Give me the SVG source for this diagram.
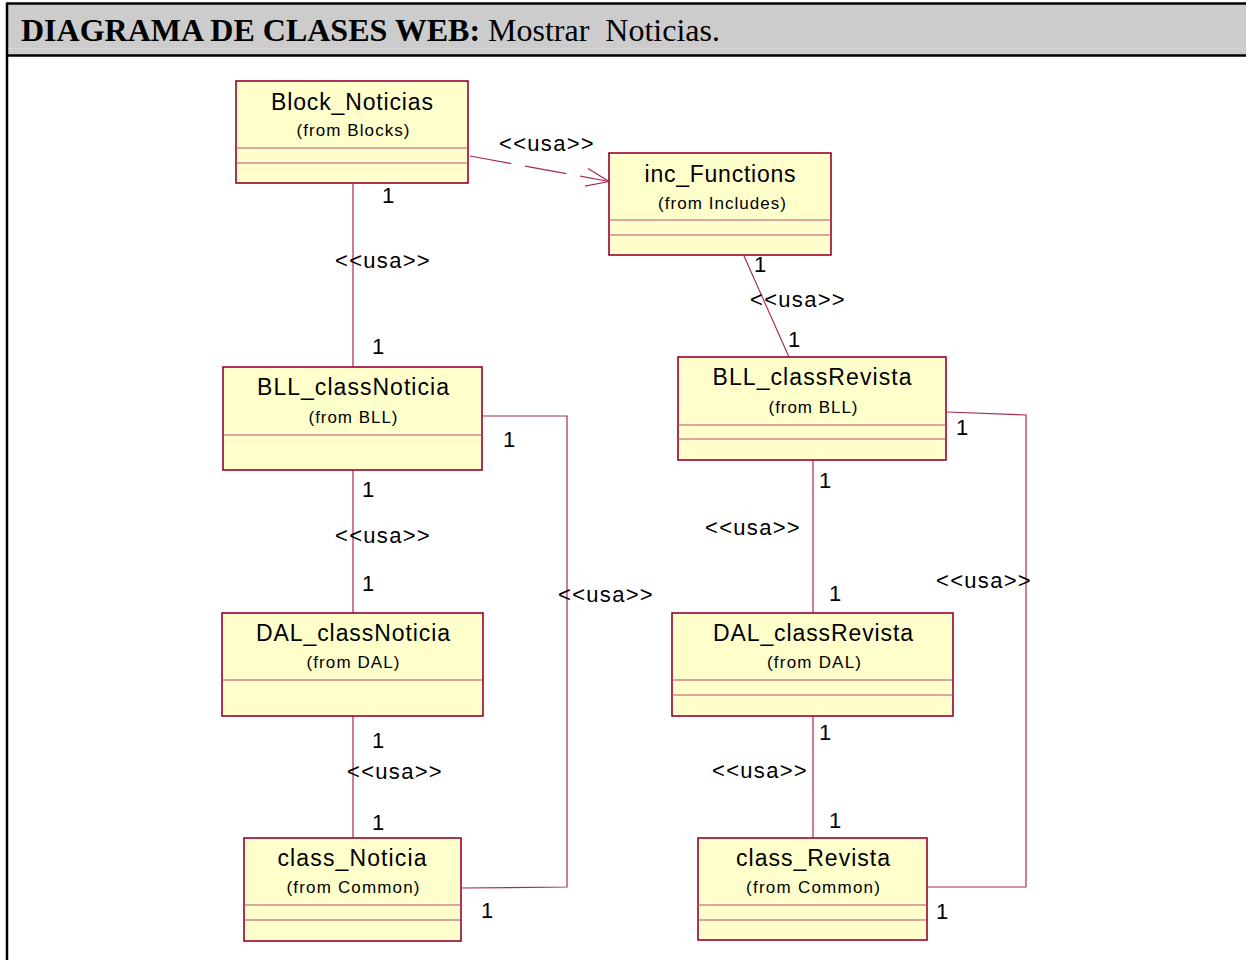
<svg xmlns="http://www.w3.org/2000/svg" width="1246" height="960" viewBox="0 0 1246 960">
  <defs>
    <style>
      .cls { fill: #ffffcc; stroke: #990033; stroke-width: 1.6; }
      .sep { stroke: #b84a6c; stroke-width: 1.2; fill: none; }
      .name { font-family: "Liberation Sans", Arial, sans-serif; font-size: 23px; fill: #000; text-anchor: middle; }
      .pkg { font-family: "Liberation Sans", Arial, sans-serif; font-size: 17px; fill: #000; text-anchor: middle; }
      .lbl { font-family: "Liberation Sans", Arial, sans-serif; font-size: 22px; fill: #000; }
      .st { letter-spacing: 1.3px; }
      .edge { stroke: #a8285a; stroke-width: 1.2; fill: none; }
      .dash { stroke-dasharray: 42 14; }
    </style>
    <marker id="open" viewBox="0 0 24 20" refX="23" refY="10" markerWidth="24" markerHeight="20" markerUnits="userSpaceOnUse" orient="auto">
      <path d="M0,1 L23,10 L0,19" fill="none" stroke="#a8285a" stroke-width="1.2"/>
    </marker>
  </defs>

  <rect width="1246" height="960" fill="#ffffff"/>

  <!-- frame and title bar -->
  <g id="frame">
    <rect x="7" y="3.5" width="1250" height="52" fill="#cccccc"/>
    <line x1="7" y1="48.5" x2="1238" y2="48.5" stroke="#d8d8d8" stroke-width="1"/>
    <line x1="7" y1="3.5" x2="1250" y2="3.5" stroke="#000" stroke-width="2.5"/>
    <line x1="7" y1="55.5" x2="1250" y2="55.5" stroke="#000" stroke-width="2.5"/>
    <line x1="7" y1="2.5" x2="7" y2="962" stroke="#000" stroke-width="2.5"/>
    <text x="21" y="41" font-family="'Liberation Serif', 'Times New Roman', serif" font-size="32" fill="#000" xml:space="preserve" textLength="699" lengthAdjust="spacingAndGlyphs"><tspan font-weight="bold">DIAGRAMA DE CLASES WEB:</tspan> Mostrar  Noticias.</text>
  </g>

  <!-- connectors -->
  <g id="connectors">
    <line class="edge dash" x1="470" y1="156" x2="609" y2="181.5" marker-end="url(#open)"/>
    <text class="lbl st" x="499" y="151">&lt;&lt;usa&gt;&gt;</text>

    <line class="edge" x1="353" y1="184" x2="353" y2="367"/>
    <text class="lbl" x="382" y="203">1</text>
    <text class="lbl st" x="335" y="268">&lt;&lt;usa&gt;&gt;</text>
    <text class="lbl" x="372" y="354">1</text>

    <line class="edge" x1="744" y1="256" x2="789" y2="357"/>
    <text class="lbl" x="754" y="272">1</text>
    <text class="lbl st" x="750" y="307">&lt;&lt;usa&gt;&gt;</text>
    <text class="lbl" x="788" y="347">1</text>

    <line class="edge" x1="353" y1="470" x2="353" y2="613"/>
    <text class="lbl" x="362" y="497">1</text>
    <text class="lbl st" x="335" y="543">&lt;&lt;usa&gt;&gt;</text>
    <text class="lbl" x="362" y="591">1</text>

    <line class="edge" x1="353" y1="716" x2="353" y2="838"/>
    <text class="lbl" x="372" y="748">1</text>
    <text class="lbl st" x="347" y="779">&lt;&lt;usa&gt;&gt;</text>
    <text class="lbl" x="372" y="830">1</text>

    <polyline class="edge" points="483,416 567,416 567,887 462,888"/>
    <text class="lbl" x="503" y="447">1</text>
    <text class="lbl st" x="558" y="602">&lt;&lt;usa&gt;&gt;</text>
    <text class="lbl" x="481" y="918">1</text>

    <line class="edge" x1="813" y1="460" x2="813" y2="613"/>
    <text class="lbl" x="819" y="488">1</text>
    <text class="lbl st" x="705" y="535">&lt;&lt;usa&gt;&gt;</text>
    <text class="lbl" x="829" y="601">1</text>

    <line class="edge" x1="813" y1="716" x2="813" y2="838"/>
    <text class="lbl" x="819" y="740">1</text>
    <text class="lbl st" x="712" y="778">&lt;&lt;usa&gt;&gt;</text>
    <text class="lbl" x="829" y="828">1</text>

    <polyline class="edge" points="947,412 1026,415 1026,887 928,887"/>
    <text class="lbl" x="956" y="435">1</text>
    <text class="lbl st" x="936" y="588">&lt;&lt;usa&gt;&gt;</text>
    <text class="lbl" x="936" y="919">1</text>
  </g>

  <!-- classes -->
  <g id="Block_Noticias">
    <rect class="cls" x="236" y="81" width="232" height="102"/>
    <line class="sep" x1="236" y1="148" x2="468" y2="148"/>
    <line class="sep" x1="236" y1="163" x2="468" y2="163"/>
    <text class="name" x="352" y="110" textLength="162" lengthAdjust="spacing">Block_Noticias</text>
    <text class="pkg" x="353" y="136" textLength="113" lengthAdjust="spacing">(from Blocks)</text>
  </g>

  <g id="inc_Functions">
    <rect class="cls" x="609" y="153" width="222" height="102"/>
    <line class="sep" x1="609" y1="220" x2="831" y2="220"/>
    <line class="sep" x1="609" y1="235" x2="831" y2="235"/>
    <text class="name" x="720" y="182" textLength="151" lengthAdjust="spacing">inc_Functions</text>
    <text class="pkg" x="722" y="209" textLength="128" lengthAdjust="spacing">(from Includes)</text>
  </g>

  <g id="BLL_classNoticia">
    <rect class="cls" x="223" y="367" width="259" height="103"/>
    <line class="sep" x1="223" y1="435" x2="482" y2="435"/>
    <text class="name" x="353" y="395" textLength="192" lengthAdjust="spacing">BLL_classNoticia</text>
    <text class="pkg" x="353" y="423" textLength="89" lengthAdjust="spacing">(from BLL)</text>
  </g>

  <g id="BLL_classRevista">
    <rect class="cls" x="678" y="357" width="268" height="103"/>
    <line class="sep" x1="678" y1="425" x2="946" y2="425"/>
    <line class="sep" x1="678" y1="439" x2="946" y2="439"/>
    <text class="name" x="812" y="385" textLength="199" lengthAdjust="spacing">BLL_classRevista</text>
    <text class="pkg" x="813" y="413" textLength="89" lengthAdjust="spacing">(from BLL)</text>
  </g>

  <g id="DAL_classNoticia">
    <rect class="cls" x="222" y="613" width="261" height="103"/>
    <line class="sep" x1="222" y1="680" x2="483" y2="680"/>
    <text class="name" x="353" y="641" textLength="194" lengthAdjust="spacing">DAL_classNoticia</text>
    <text class="pkg" x="353" y="668" textLength="93" lengthAdjust="spacing">(from DAL)</text>
  </g>

  <g id="DAL_classRevista">
    <rect class="cls" x="672" y="613" width="281" height="103"/>
    <line class="sep" x1="672" y1="680" x2="953" y2="680"/>
    <line class="sep" x1="672" y1="695" x2="953" y2="695"/>
    <text class="name" x="813" y="641" textLength="200" lengthAdjust="spacing">DAL_classRevista</text>
    <text class="pkg" x="814" y="668" textLength="94" lengthAdjust="spacing">(from DAL)</text>
  </g>

  <g id="class_Noticia">
    <rect class="cls" x="244" y="838" width="217" height="103"/>
    <line class="sep" x1="244" y1="905" x2="461" y2="905"/>
    <line class="sep" x1="244" y1="920" x2="461" y2="920"/>
    <text class="name" x="352" y="866" textLength="149" lengthAdjust="spacing">class_Noticia</text>
    <text class="pkg" x="353" y="893" textLength="133" lengthAdjust="spacing">(from Common)</text>
  </g>

  <g id="class_Revista">
    <rect class="cls" x="698" y="838" width="229" height="102"/>
    <line class="sep" x1="698" y1="905" x2="927" y2="905"/>
    <line class="sep" x1="698" y1="920" x2="927" y2="920"/>
    <text class="name" x="813" y="866" textLength="154" lengthAdjust="spacing">class_Revista</text>
    <text class="pkg" x="813" y="893" textLength="134" lengthAdjust="spacing">(from Common)</text>
  </g>
</svg>
